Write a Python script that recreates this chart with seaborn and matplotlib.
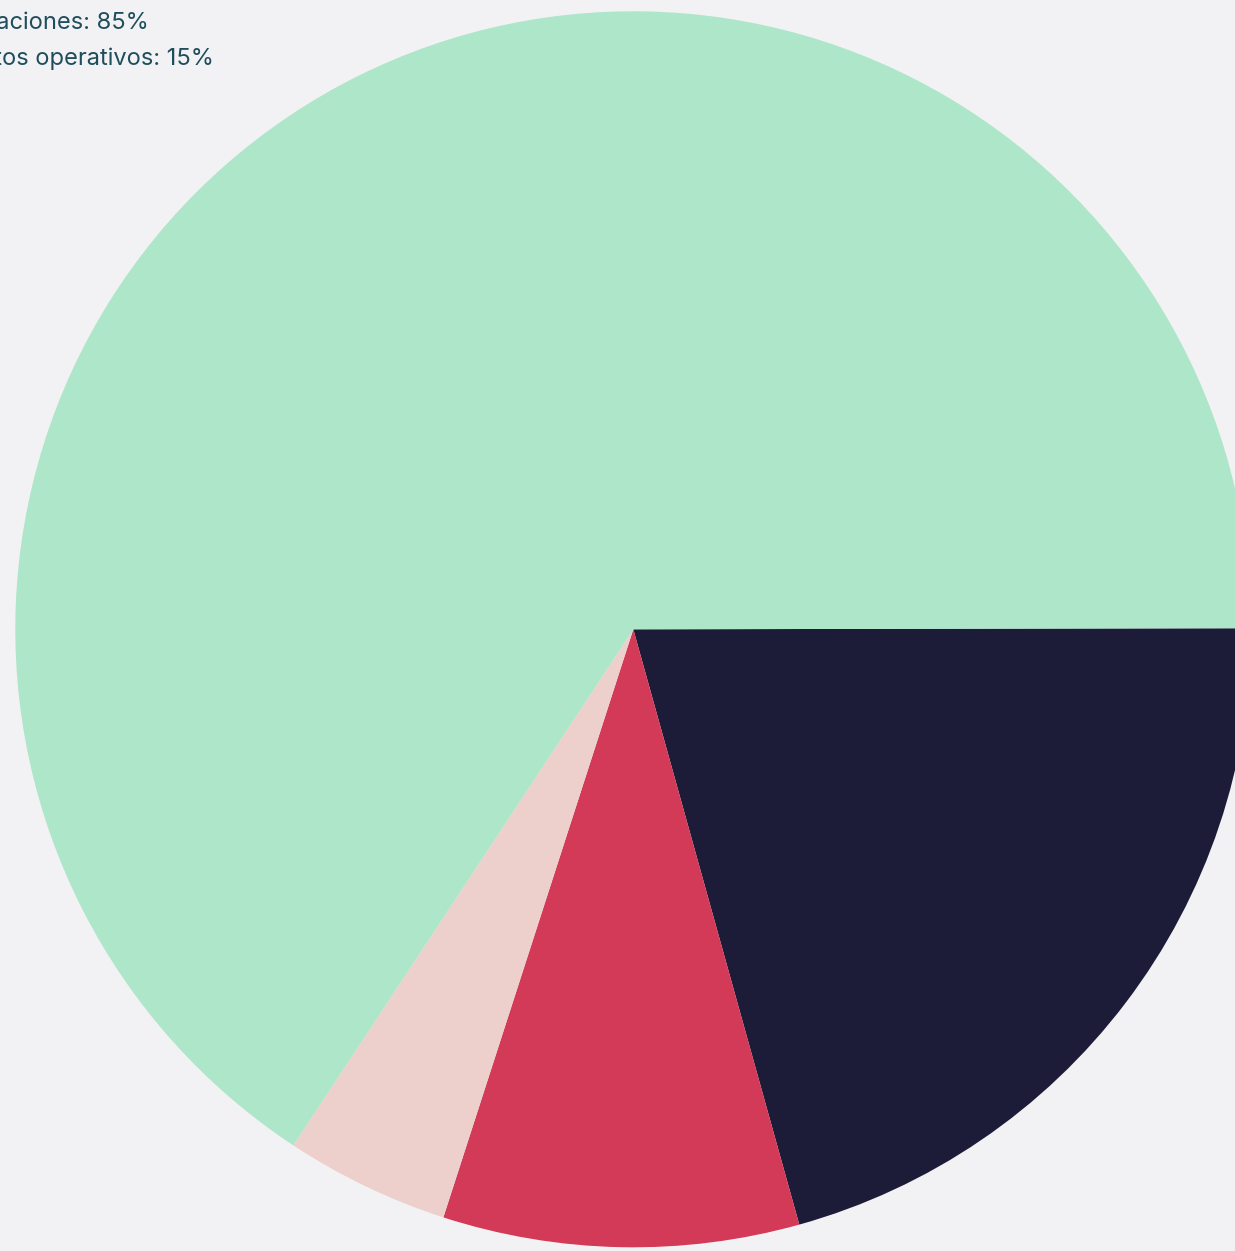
import matplotlib
matplotlib.use("Agg")
import matplotlib.pyplot as plt
import seaborn as sns

# slice values (share of the circle)
slices = ["Gastos fijos", "Gastos variables", "Otros", "Donaciones"]
values = [20.7, 9.3, 4.3, 65.7]
slice_colors = ["#1c1c38", "#d33a58", "#edd0cc", "#ade6c8"]

# legend text (left part is cut off in the original)
legend_labels = ["Donaciones: 85%", "Gastos operativos: 15%"]

bg = "#f2f2f4"
sns.set_theme(style="white", rc={"figure.facecolor": bg, "axes.facecolor": bg})
plt.rcParams['font.family'] = ['Inter', 'DejaVu Sans']

W, H = 1235, 1251
fig = plt.figure(figsize=(W / 100, H / 100), dpi=100)
ax = fig.add_axes([0, 0, 1, 1])

cx, cy, r = 633.3, 629.3, 618
ax.pie(values, colors=slice_colors, radius=r, center=(0, 0),
       startangle=0.1, counterclock=False,
       wedgeprops={"linewidth": 0, "antialiased": True})
ax.set_aspect("auto")
ax.set_xlim(-cx, W - cx)
ax.set_ylim(-(H - cy), cy)
ax.axis("off")

# legend lines, anchored left of the canvas so the start is clipped
y0 = 1 - 29 / H
for i, lab in enumerate(legend_labels):
    fig.text(-49 / W, y0 - i * 36 / H, lab,
             fontsize=17, color="#1e4d5b", ha="left", va="baseline")

fig.savefig("out.png", dpi=100, facecolor=bg)
